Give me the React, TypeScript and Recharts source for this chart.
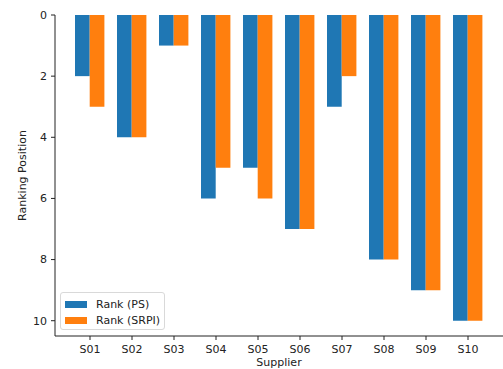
import React from 'react';
import { BarChart, Bar, XAxis, YAxis } from 'recharts';

const suppliers = ['S01', 'S02', 'S03', 'S04', 'S05', 'S06', 'S07', 'S08', 'S09', 'S10'];
const rankPS = [2, 4, 1, 6, 5, 7, 3, 8, 9, 10];
const rankSRPI = [3, 4, 1, 5, 6, 7, 2, 8, 9, 10];
const yTicks = [0, 2, 4, 6, 8, 10];

const data = suppliers.map((s, i) => ({ supplier: s, ps: rankPS[i], srpi: rankSRPI[i] }));

const FONT = 'DejaVu Sans, sans-serif';

const legendItems = [
  { label: 'Rank (PS)', color: '#1f77b4' },
  { label: 'Rank (SRPI)', color: '#ff7f0e' },
];

const LegendBox = () => (
  <div
    style={{
      position: 'absolute',
      left: 60,
      top: 292,
      width: 105,
      height: 38,
      border: '1px solid #d9d9d9',
      borderRadius: 3,
      background: 'rgba(255,255,255,0.8)',
      fontFamily: FONT,
      fontSize: 11,
      color: '#222',
      boxSizing: 'border-box',
      padding: '4px 0 0 4px',
    }}
  >
    {legendItems.map((e) => (
      <div key={e.label} style={{ display: 'flex', alignItems: 'center', height: 14, marginBottom: 2 }}>
        <span style={{ display: 'inline-block', width: 22, height: 7, background: e.color, marginRight: 9 }} />
        <span>{e.label}</span>
      </div>
    ))}
  </div>
);

export default function App() {
  return (
    <div style={{ position: 'absolute', left: 0, top: 0, width: 503, height: 369, background: '#fff' }}>
      <BarChart
        width={503}
        height={369}
        data={data}
        margin={{ top: 15, right: 0, left: 0, bottom: 0 }}
        barGap={0}
        barSize={14.7}
      >
        <XAxis
          dataKey="supplier"
          height={33}
          padding={{ left: 14, right: 14 }}
          tick={{ fill: '#222', fontSize: 11, fontFamily: FONT }}
          tickLine={{ stroke: '#222' }}
          tickSize={4}
          tickMargin={5}
          axisLine={{ stroke: '#222' }}
          label={{ value: 'Supplier', position: 'insideBottom', offset: 3, fill: '#222', fontSize: 11, fontFamily: FONT }}
        />
        <YAxis
          reversed
          domain={[0, 10.5]}
          ticks={yTicks}
          width={55}
          tick={{ fill: '#222', fontSize: 11, fontFamily: FONT }}
          tickLine={{ stroke: '#222' }}
          tickSize={4}
          tickMargin={4}
          axisLine={{ stroke: '#222' }}
          label={{ value: 'Ranking Position', angle: -90, position: 'insideLeft', offset: 22, fill: '#222', fontSize: 11, fontFamily: FONT, style: { textAnchor: 'middle' } }}
        />
        <XAxis xAxisId="top" orientation="top" dataKey="supplier" tick={false} tickLine={false} height={0} axisLine={{ stroke: '#222' }} />
        <Bar dataKey="ps" name="Rank (PS)" fill="#1f77b4" isAnimationActive={false} />
        <Bar dataKey="srpi" name="Rank (SRPI)" fill="#ff7f0e" isAnimationActive={false} />
      </BarChart>
      <LegendBox />
    </div>
  );
}
